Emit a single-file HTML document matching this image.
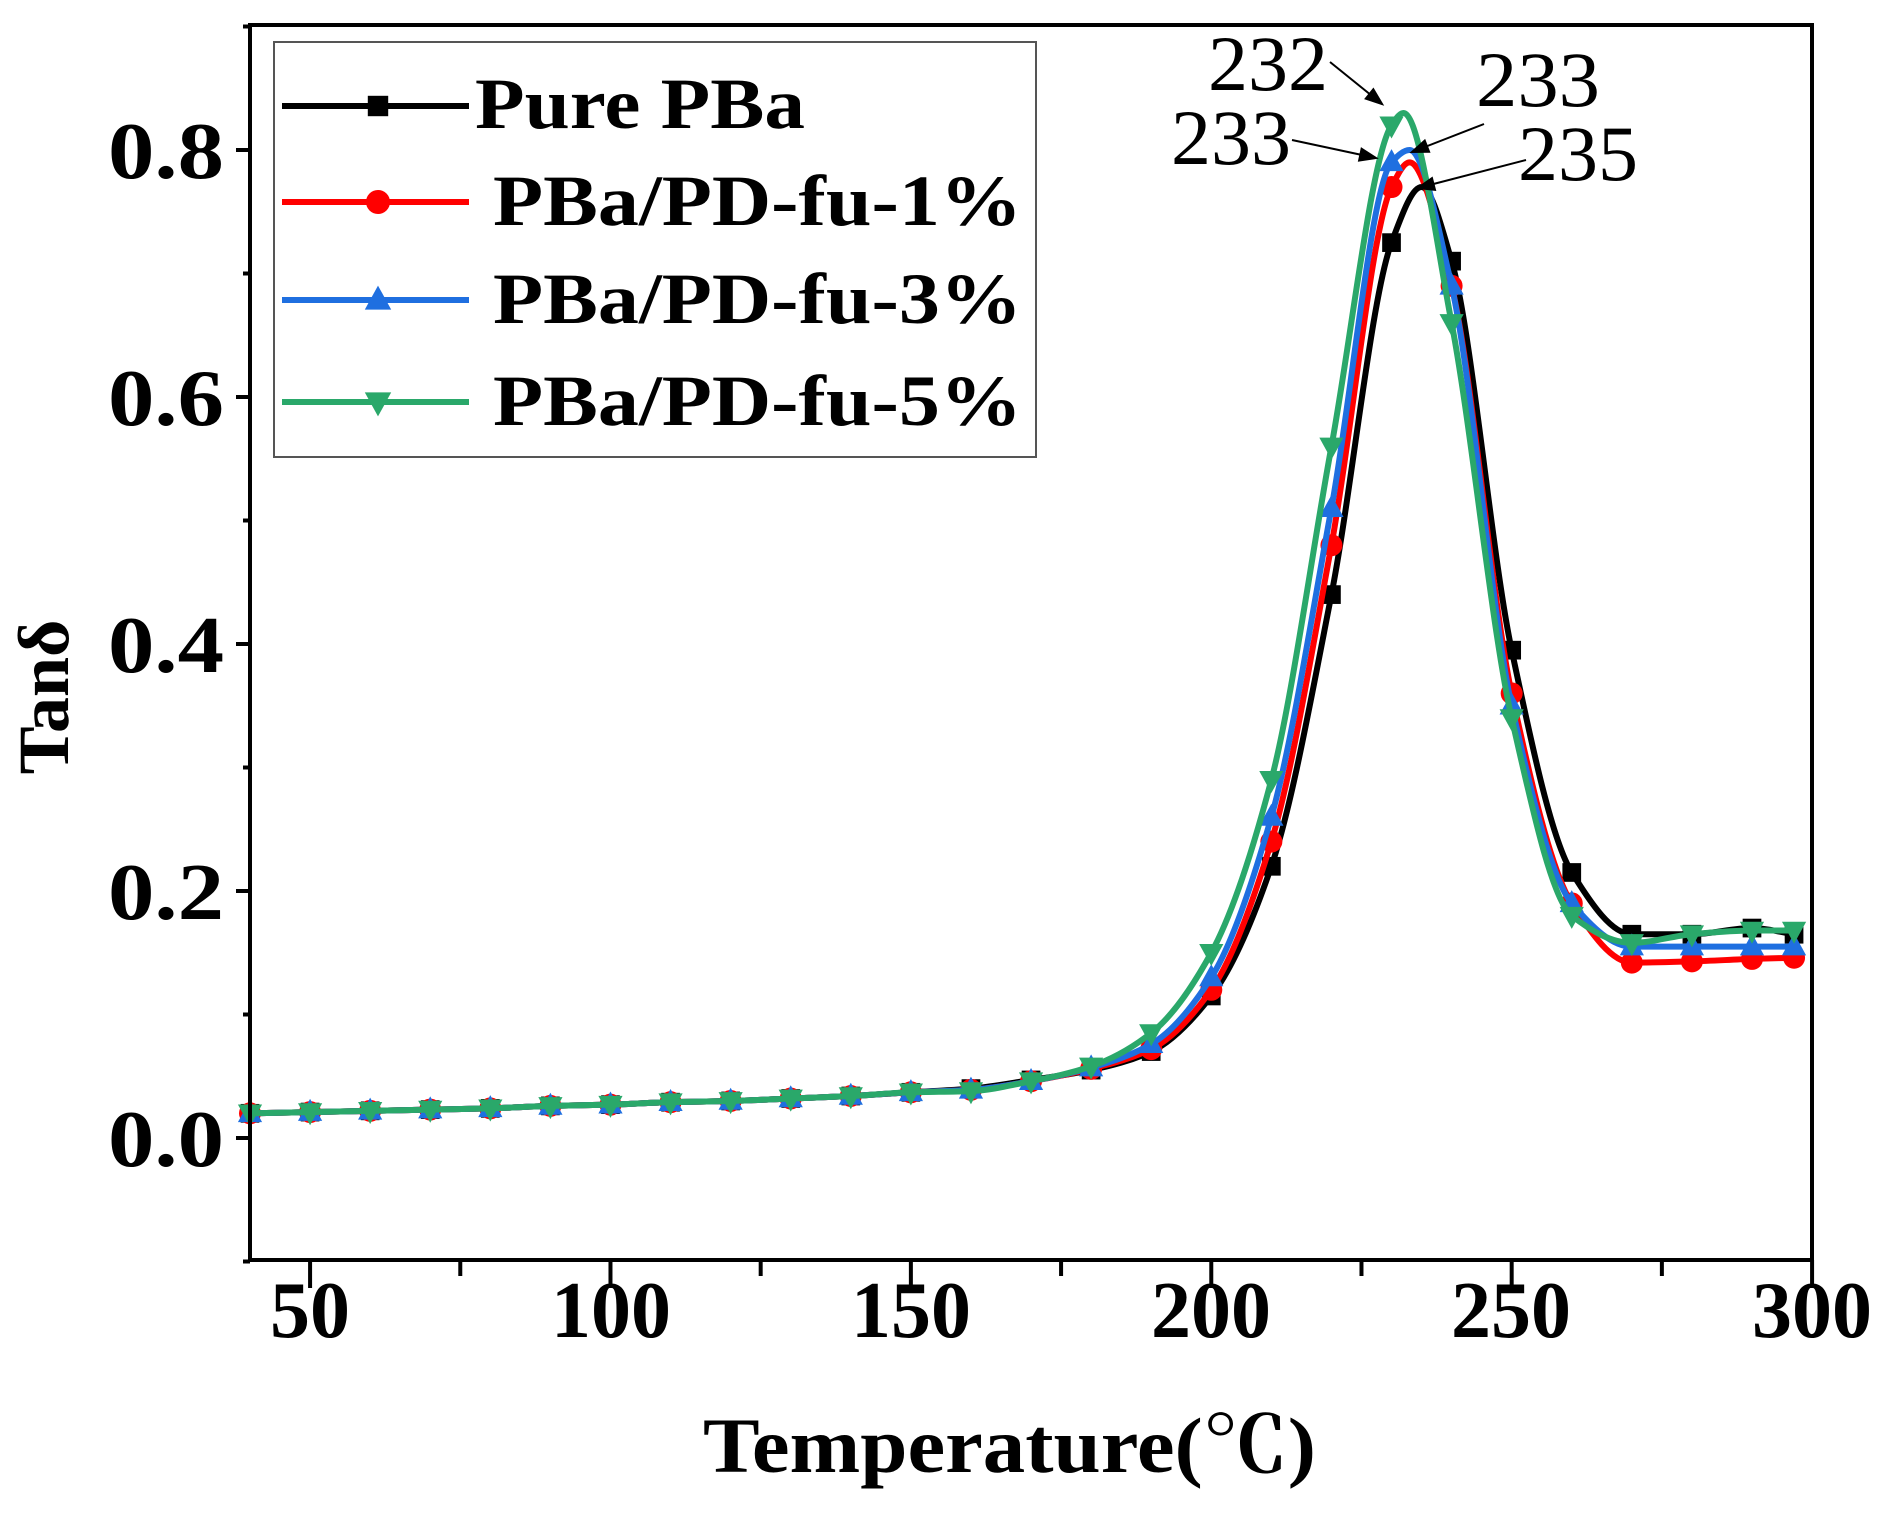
<!DOCTYPE html>
<html><head><meta charset="utf-8"><style>
html,body{margin:0;padding:0;background:#fff;width:1884px;height:1526px;overflow:hidden}
svg{display:block}
text{font-family:"Liberation Serif","Noto Serif CJK SC",serif;fill:#000}
</style></head><body>
<svg id="s" width="1884" height="1526" viewBox="0 0 1884 1526" xmlns="http://www.w3.org/2000/svg">
<g id="curves"></g>
<rect x="250" y="25" width="1562" height="1235" fill="none" stroke="#000" stroke-width="4"/>
<g id="ticks" stroke="#000" stroke-width="4"></g>
<g font-size="80" font-weight="bold" text-anchor="end">
<text x="224" y="178" textLength="116" lengthAdjust="spacingAndGlyphs">0.8</text>
<text x="224" y="425" textLength="116" lengthAdjust="spacingAndGlyphs">0.6</text>
<text x="224" y="672" textLength="116" lengthAdjust="spacingAndGlyphs">0.4</text>
<text x="224" y="919" textLength="116" lengthAdjust="spacingAndGlyphs">0.2</text>
<text x="224" y="1166" textLength="116" lengthAdjust="spacingAndGlyphs">0.0</text>
</g>
<g font-size="80" font-weight="bold" text-anchor="middle">
<text x="310" y="1337">50</text>
<text x="611" y="1337">100</text>
<text x="911" y="1337">150</text>
<text x="1211" y="1337">200</text>
<text x="1511" y="1337">250</text>
<text x="1812" y="1337">300</text>
</g>
<text x="703" y="1472" font-size="78" font-weight="bold" textLength="613" lengthAdjust="spacingAndGlyphs">Temperature(℃)</text>
<text transform="translate(68,697) rotate(-90)" font-size="72" font-weight="bold" text-anchor="middle">Tanδ</text>
<rect x="274" y="42" width="762" height="415" fill="#fff" stroke="#555" stroke-width="2"/>
<g id="leg"></g>
<g font-size="72" font-weight="bold">
<text x="475" y="128" textLength="330" lengthAdjust="spacingAndGlyphs">Pure PBa</text>
<text x="493" y="225" textLength="529" lengthAdjust="spacingAndGlyphs">PBa/PD-fu-1%</text>
<text x="493" y="323" textLength="529" lengthAdjust="spacingAndGlyphs">PBa/PD-fu-3%</text>
<text x="493" y="425" textLength="529" lengthAdjust="spacingAndGlyphs">PBa/PD-fu-5%</text>
</g>
<g font-size="78">
<text x="1208" y="90" textLength="120" lengthAdjust="spacingAndGlyphs">232</text>
<text x="1476" y="106" textLength="124" lengthAdjust="spacingAndGlyphs">233</text>
<text x="1171" y="164" textLength="120" lengthAdjust="spacingAndGlyphs">233</text>
<text x="1518" y="180" textLength="120" lengthAdjust="spacingAndGlyphs">235</text>
</g>
<g id="arr" stroke="#000" stroke-width="2" fill="#000"></g>
</svg>
<script>
const X=t=>250+(t-40)*6.008, Y=v=>1138-v*1235;
const NS="http://www.w3.org/2000/svg";
function el(p,tag,a){const e=document.createElementNS(NS,tag);for(const k in a)e.setAttribute(k,a[k]);p.appendChild(e);return e;}
const base=[0.02,0.021,0.022,0.023,0.024,0.026,0.027,0.029,0.03,0.032,0.034,0.037];
const T=[40,50,60,70,80,90,100,110,120,130,140,150,160,170,180,190,200,210,220,230,240,250,260,270,280,290,297];
function mk(rest){return base.concat(rest);}
const S=[
 {c:"#000",m:"sq",d:mk([0.04,0.047,0.055,0.07,0.115,0.22,0.44,0.725,0.71,0.395,0.215,0.165,0.165,0.17,0.165]),pk:[235,0.77]},
 {c:"#f00",m:"ci",d:mk([0.039,0.046,0.056,0.072,0.12,0.24,0.48,0.77,0.69,0.36,0.19,0.142,0.143,0.145,0.146]),pk:[233,0.79]},
 {c:"#1f6fe0",m:"tu",d:mk([0.039,0.046,0.057,0.076,0.13,0.26,0.51,0.79,0.69,0.35,0.19,0.155,0.155,0.155,0.155]),pk:[233,0.80]},
 {c:"#2aa86a",m:"td",d:mk([0.038,0.046,0.058,0.085,0.15,0.29,0.56,0.82,0.66,0.34,0.18,0.158,0.165,0.168,0.168]),pk:[232,0.83]}
];
function marker(g,m,x,y,c,r){
 if(m=="sq")el(g,"rect",{x:x-r*0.85,y:y-r*0.85,width:r*1.7,height:r*1.7,fill:c});
 else if(m=="ci")el(g,"circle",{cx:x,cy:y,r:r,fill:c});
 else if(m=="tu")el(g,"polygon",{points:`${x},${y-r*1.2} ${x-r*1.1},${y+r*0.8} ${x+r*1.1},${y+r*0.8}`,fill:c});
 else el(g,"polygon",{points:`${x},${y+r*1.2} ${x-r*1.1},${y-r*0.8} ${x+r*1.1},${y-r*0.8}`,fill:c});
}
function monoPath(P){
 const n=P.length,dx=[],m=[],t=[];
 for(let i=0;i<n-1;i++){dx.push(P[i+1][0]-P[i][0]);m.push((P[i+1][1]-P[i][1])/dx[i]);}
 t[0]=m[0];t[n-1]=m[n-2];
 for(let i=1;i<n-1;i++){ if(m[i-1]*m[i]<=0)t[i]=0; else {const w1=2*dx[i]+dx[i-1],w2=dx[i]+2*dx[i-1];t[i]=(w1+w2)/(w1/m[i-1]+w2/m[i]);} }
 let d=`M${P[0][0]},${P[0][1]}`;
 for(let i=0;i<n-1;i++){const h=dx[i]/3;
  d+=` C${P[i][0]+h},${P[i][1]+t[i]*h} ${P[i+1][0]-h},${P[i+1][1]-t[i+1]*h} ${P[i+1][0]},${P[i+1][1]}`;}
 return d;
}
const cg=document.getElementById("curves");
S.forEach(s=>{
 let pts=T.map((t,i)=>[t,s.d[i]]);
 pts.push(s.pk);pts.sort((a,b)=>a[0]-b[0]);
 let P=pts.map(p=>[X(p[0]),Y(p[1])]);
 el(cg,"path",{d:monoPath(P),fill:"none",stroke:s.c,"stroke-width":6});
 T.forEach((t,i)=>marker(cg,s.m,X(t),Y(s.d[i]),s.c,11));
});
const tg=document.getElementById("ticks");
for(let t=50;t<=300;t+=25){const x=X(t);el(tg,"line",{x1:x,y1:1260,x2:x,y2:t%50==0?1288:1276});}
for(let v=-0.1;v<=0.9001;v+=0.1){const y=Y(v);const maj=Math.abs(Math.round(v*10)%2)==0;el(tg,"line",{x1:250,y1:y,x2:maj?236:243,y2:y});}
const lg=document.getElementById("leg");
[[106,"#000","sq"],[202,"#f00","ci"],[300,"#1f6fe0","tu"],[402,"#2aa86a","td"]].forEach(([y,c,m])=>{
 el(lg,"line",{x1:282,y1:y,x2:469,y2:y,stroke:c,"stroke-width":6});marker(lg,m,378,y,c,12);});
const ag=document.getElementById("arr");
[[1330,62,1382,104],[1484,124,1412,152],[1292,140,1376,158],[1526,160,1418,188]].forEach(([a,b,c,d])=>{
 el(ag,"line",{x1:a,y1:b,x2:c,y2:d});
 const ang=Math.atan2(d-b,c-a),L=16,w=6;
 const bx=c-L*Math.cos(ang),by=d-L*Math.sin(ang);
 el(ag,"polygon",{points:`${c},${d} ${bx-w*Math.sin(ang)},${by+w*Math.cos(ang)} ${bx+w*Math.sin(ang)},${by-w*Math.cos(ang)}`});
});
</script>
</body></html>
